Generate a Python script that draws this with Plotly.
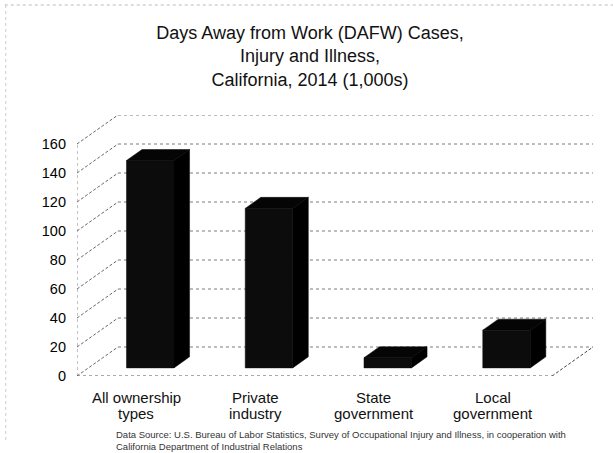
import plotly.graph_objects as go

# Data: days-away-from-work cases, California 2014, in thousands
categories = ["All ownership<br>types", "Private<br>industry", "State<br>government", "Local<br>government"]
cases_thousands = [143, 110, 7, 26]
y_ticks = [0, 20, 40, 60, 80, 100, 120, 140, 160]

# Oblique projection of the 3-D box: a point at depth d (0 = front, 1 = back)
# is shifted right by d*DEPTH_X category units and up by d*DEPTH_Y value units.
DEPTH_X = 0.345
DEPTH_Y = 20
N = len(categories)
BAR_W = 0.40
BAR_SHIFT = 0.02
D_FRONT, D_BACK = 0.28, 0.66


def proj(x, v, d):
    return x + d * DEPTH_X, v + d * DEPTH_Y


def poly(points):
    xs, ys = zip(*[proj(*p) for p in points])
    return list(xs) + [xs[0]], list(ys) + [ys[0]]


fig = go.Figure()

grid_col = "#7a7a7a"

# back wall gridlines
for v in y_ticks:
    (xa, ya), (xb, yb) = proj(0, v, 1), proj(N, v, 1)
    fig.add_trace(go.Scatter(x=[xa, xb], y=[ya, yb], mode="lines",
                             line=dict(color=grid_col, width=1, dash="dot"),
                             hoverinfo="skip", showlegend=False))
    # side-wall diagonals from the front axis to the back wall
    (xf, yf) = proj(0, v, 0)
    fig.add_trace(go.Scatter(x=[xf, xa], y=[yf, ya], mode="lines",
                             line=dict(color="#666", width=1, dash="3px,2px"),
                             hoverinfo="skip", showlegend=False))

# front vertical axis line
(x0f, y0f), (x1f, y1f) = proj(0, 0, 0), proj(0, y_ticks[-1], 0)
fig.add_trace(go.Scatter(x=[x0f, x1f], y=[y0f, y1f], mode="lines",
                         line=dict(color="#888", width=1, dash="dot"),
                         hoverinfo="skip", showlegend=False))

# floor: front edge and right edge
(xa, ya), (xb, yb) = proj(0, 0, 0), proj(N, 0, 0)
fig.add_trace(go.Scatter(x=[xa, xb], y=[ya, yb], mode="lines",
                         line=dict(color="#555", width=1.2, dash="dot"),
                         hoverinfo="skip", showlegend=False))
(xc, yc) = proj(N, 0, 1)
fig.add_trace(go.Scatter(x=[xb, xc], y=[yb, yc], mode="lines",
                         line=dict(color="#444", width=1, dash="3px,2px"),
                         hoverinfo="skip", showlegend=False))

# 3-D bars: front face, top face, right side face
for i, val in enumerate(cases_thousands):
    x0 = i + 0.5 + BAR_SHIFT - BAR_W / 2
    x1 = x0 + BAR_W
    faces = [
        ([(x0, 0, D_FRONT), (x1, 0, D_FRONT), (x1, val, D_FRONT), (x0, val, D_FRONT)], "#0c0c0c"),
        ([(x0, val, D_FRONT), (x1, val, D_FRONT), (x1, val, D_BACK), (x0, val, D_BACK)], "#050505"),
        ([(x1, 0, D_FRONT), (x1, 0, D_BACK), (x1, val, D_BACK), (x1, val, D_FRONT)], "#000000"),
    ]
    for pts, col in faces:
        xs, ys = poly(pts)
        fig.add_trace(go.Scatter(x=xs, y=ys, mode="lines", fill="toself",
                                 fillcolor=col, line=dict(color=col, width=0.5),
                                 hoverinfo="skip", showlegend=False))

font_family = "Liberation Sans, Arial, sans-serif"

# category labels, one annotation per text line for tight line spacing
annotations = []
for i, cat in enumerate(categories):
    for k, line in enumerate(cat.split("<br>")):
        annotations.append(dict(
            text=line, x=i + 0.5, y=0, xref="x", yref="y",
            xanchor="center", yanchor="middle", yshift=-21 - 16 * k,
            showarrow=False, font=dict(size=15, color="#111", family=font_family),
        ))

annotations.append(dict(
    text="Data Source: U.S. Bureau of Labor Statistics, Survey of Occupational Injury and Illness, in cooperation with<br>"
         "California Department of Industrial Relations",
    xref="paper", yref="paper", x=(114 - 77) / 516, y=-0.196,
    xanchor="left", yanchor="top", align="left", showarrow=False,
    font=dict(size=9.5, color="#333", family=font_family),
))

fig.update_layout(
    width=613, height=453,
    margin=dict(l=77, r=20, t=115, b=77),
    paper_bgcolor="white", plot_bgcolor="white",
    font=dict(family=font_family, color="#111"),
    title=dict(
        text="Days Away from Work (DAFW) Cases,<br>Injury and Illness,<br>California, 2014 (1,000s)",
        x=310 / 613, xanchor="center", xref="container",
        y=1 - 39 / 453, yanchor="top", yref="container",
        font=dict(size=18, family=font_family, color="#111"),
    ),
    xaxis=dict(
        range=[0, N + DEPTH_X], showgrid=False, zeroline=False, showline=False,
        showticklabels=False, ticks="", fixedrange=True,
    ),
    yaxis=dict(
        range=[0, y_ticks[-1] + DEPTH_Y], showgrid=False, zeroline=False, showline=False,
        tickmode="array", tickvals=y_ticks, ticks="",
        tickfont=dict(size=14.5, color="#000"), ticklabelstandoff=10,
        fixedrange=True,
    ),
    annotations=annotations,
    shapes=[
        dict(type="line", xref="paper", yref="paper", x0=-0.14, x1=1.04,
             y0=1 + 110 / 261, y1=1 + 110 / 261,
             line=dict(color="#bbb", width=1, dash="dot")),
        dict(type="line", xref="paper", yref="paper", x0=-0.138, x1=-0.138,
             y0=1 + 110 / 261, y1=-0.25,
             line=dict(color="#ccc", width=1, dash="dot")),
    ],
)

fig.write_html("out.html")
